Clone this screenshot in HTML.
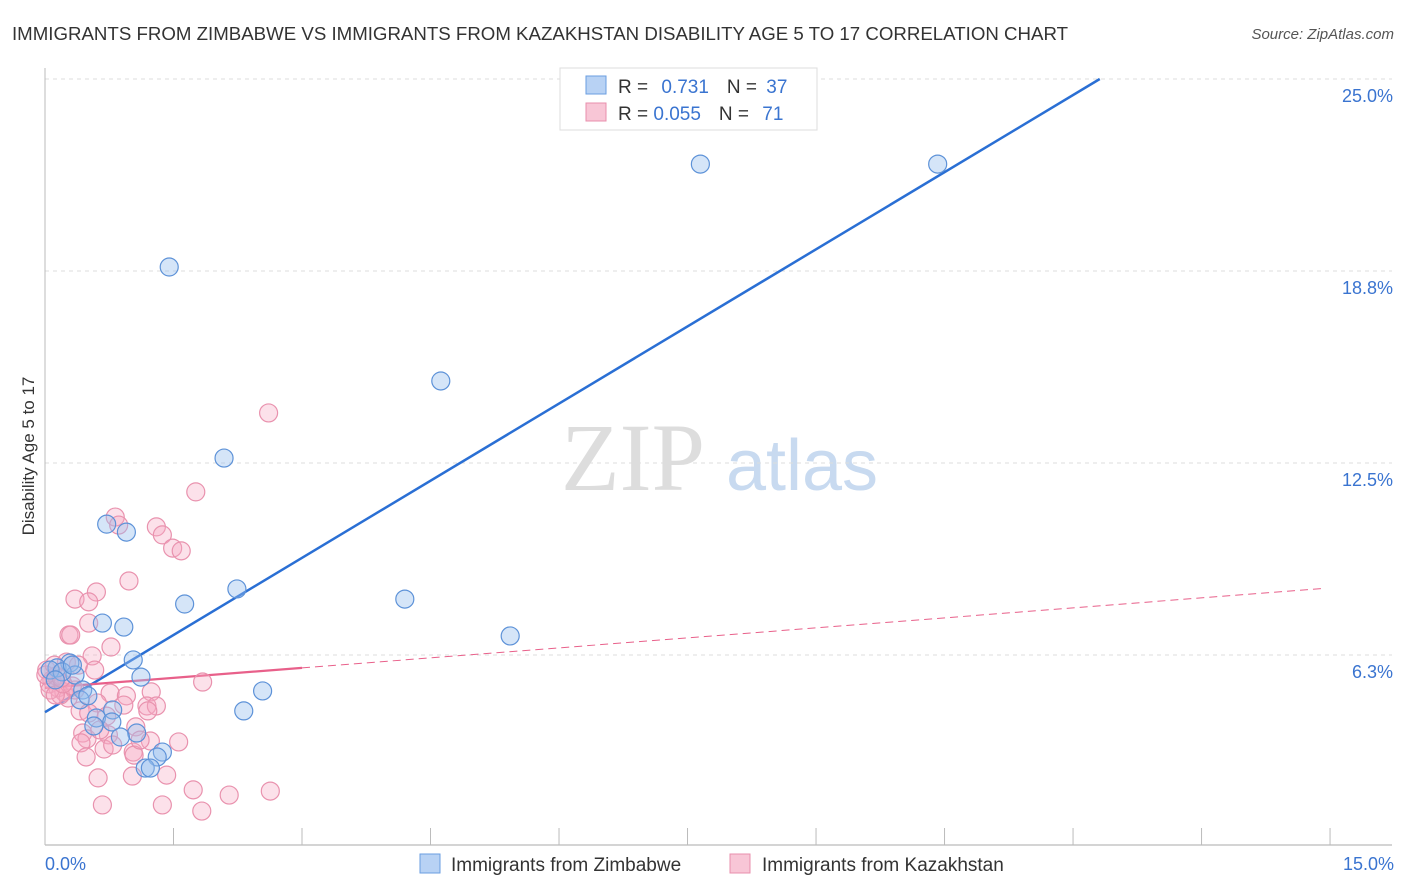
<!DOCTYPE html>
<html><head><meta charset="utf-8"><style>
body{margin:0;background:#fff;font-family:"Liberation Sans",sans-serif}
svg{display:block}
</style></head><body>
<svg id="chart" width="1406" height="892">
<text x="12" y="40" font-size="18.5" fill="#333" textLength="1056" lengthAdjust="spacingAndGlyphs">IMMIGRANTS FROM ZIMBABWE VS IMMIGRANTS FROM KAZAKHSTAN DISABILITY AGE 5 TO 17 CORRELATION CHART</text>
<text x="1394" y="39" font-size="15" fill="#555" text-anchor="end" font-style="italic">Source: ZipAtlas.com</text>
<text x="34" y="456" font-size="17" fill="#333" text-anchor="middle" transform="rotate(-90 34 456)">Disability Age 5 to 17</text>
<g><text x="633" y="490" font-size="96" fill="#ddd" font-family="Liberation Serif,serif" text-anchor="middle">ZIP</text><text x="802" y="490" font-size="72" fill="#c8daf0" text-anchor="middle">atlas</text></g>
<g id="grid"></g><g id="axes"></g><g id="lines"></g><g id="pts"></g>
<g>
<rect x="560" y="68" width="257" height="62" fill="#fff" stroke="#ddd"/>
<rect x="586" y="76" width="20" height="18" fill="#b8d2f4" stroke="#6a9ee0"/>
<rect x="586" y="103" width="20" height="18" fill="#f8c6d6" stroke="#e88fac"/>
<text x="618" y="93" font-size="19" fill="#333">R = <tspan fill="#3a74d0" dx="8">0.731</tspan><tspan dx="18">N = </tspan><tspan fill="#3a74d0" dx="4">37</tspan></text>
<text x="618" y="120" font-size="19" fill="#333">R = <tspan fill="#3a74d0">0.055</tspan><tspan dx="18">N = </tspan><tspan fill="#3a74d0" dx="8">71</tspan></text>
</g>
<g>
<rect x="420" y="854" width="20" height="19" fill="#b8d2f4" stroke="#6a9ee0"/>
<text x="451" y="871" font-size="19" fill="#333">Immigrants from Zimbabwe</text>
<rect x="730" y="854" width="20" height="19" fill="#f8c6d6" stroke="#e88fac"/>
<text x="762" y="871" font-size="19" fill="#333">Immigrants from Kazakhstan</text>
</g>
</svg>
<script>
const xTickVals=[0,1.5,3,4.5,6,7.5,9,10.5,12,13.5,15];
const yTickVals=[6.25,12.5,18.75,25];
const yTickLabels=["6.3%","12.5%","18.8%","25.0%"];
const xEndLabels=["0.0%","15.0%"];
const zimX=[1.45,7.65,10.42,4.62,2.09,0.72,0.95,2.24,1.63,4.20,0.67,0.92,5.43,1.03,1.12,2.54,2.32,0.29,0.14,0.35,0.44,0.41,0.79,0.60,0.78,0.57,1.07,0.88,1.37,1.31,1.17,1.23,0.06,0.20,0.32,0.12,0.50];
const zimY=[18.88,22.23,22.23,15.17,12.66,10.51,10.25,8.40,7.91,8.07,7.29,7.16,6.87,6.09,5.53,5.08,4.43,5.99,5.83,5.60,5.11,4.79,4.46,4.20,4.07,3.94,3.71,3.58,3.09,2.93,2.57,2.57,5.76,5.70,5.92,5.44,4.92];
const kazX=[2.61,1.76,0.82,0.86,1.30,1.37,1.49,1.59,0.98,0.60,0.35,0.51,0.51,0.28,0.30,0.77,0.55,1.84,0.25,0.39,0.02,0.08,0.15,0.22,0.05,0.13,0.27,0.35,0.76,0.95,1.24,0.61,0.92,1.19,1.30,0.41,0.72,0.51,0.74,0.44,0.49,1.06,1.23,1.56,0.42,0.69,1.03,1.04,0.48,0.62,1.02,1.42,0.67,1.37,1.73,2.15,1.83,2.63,0.18,0.32,0.06,0.12,0.21,0.58,0.79,1.11,1.20,0.01,0.11,0.19,0.64];
const kazY=[14.13,11.56,10.74,10.48,10.42,10.16,9.73,9.64,8.66,8.30,8.07,7.98,7.29,6.90,6.90,6.51,6.22,5.37,6.02,5.92,5.76,5.44,5.18,5.05,5.31,5.57,4.85,5.11,5.01,4.92,5.05,4.69,4.62,4.59,4.59,4.43,4.26,4.36,3.65,3.71,3.52,3.91,3.45,3.42,3.39,3.19,3.09,2.99,2.93,2.25,2.31,2.34,1.37,1.37,1.86,1.69,1.17,1.82,4.95,5.24,5.11,4.95,5.31,5.76,3.32,3.48,4.43,5.6,5.92,5.5,3.81];
const zimFit=[4.39,1.674];
const kazFit=[5.18,0.217];
const NS="http://www.w3.org/2000/svg";
const X=v=>45+v*85.67, Y=v=>847-v*30.72;
function mk(p,t,a){const e=document.createElementNS(NS,t);for(const k in a)e.setAttribute(k,a[k]);document.getElementById(p).appendChild(e);return e;}
yTickVals.forEach((v,i)=>{
 const g=mk('grid','line',{x1:45,x2:1392,y1:Y(v),y2:Y(v),stroke:'#ddd','stroke-dasharray':'4 4'});
 
 
 const t=mk('axes','text',{x:1393,y:Y(v)+23,'font-size':18,fill:'#3a74d0','text-anchor':'end'});t.textContent=yTickLabels[i];
 
 
});
const ax=mk('axes','line',{x1:45,x2:1392,y1:845,y2:845,stroke:'#aaa'});


const ay=mk('axes','line',{x1:45,x2:45,y1:68,y2:845,stroke:'#bbb'});


xTickVals.forEach(v=>{const t=mk('axes','line',{x1:X(v),x2:X(v),y1:828,y2:845,stroke:'#bbb'});
 
 });
[[0,45,'start'],[15,1394,'end']].forEach((d,i)=>{const t=mk('axes','text',{x:d[1],y:870,'font-size':18,fill:'#3a74d0','text-anchor':d[2]});t.textContent=xEndLabels[i];
 
 });
function pts(xs,ys,fill,stroke,name){xs.forEach((x,i)=>{const c=mk('pts','circle',{cx:X(x),cy:Y(ys[i]),r:9,fill:fill,stroke:stroke,'stroke-width':1.2});
 
 });}
pts(kazX,kazY,'rgba(246,170,196,0.35)','#e992ae','kazakhstan-point');
pts(zimX,zimY,'rgba(150,190,238,0.4)','#5d92d8','zimbabwe-point');
const xe=(25-zimFit[0])/zimFit[1];
const l1=mk('lines','line',{x1:X(0),y1:Y(zimFit[0]),x2:X(xe),y2:Y(25),stroke:'#2a6fd4','stroke-width':2.5});


const l2=mk('lines','line',{x1:X(0),y1:Y(kazFit[0]),x2:X(3),y2:Y(kazFit[0]+3*kazFit[1]),stroke:'#e8608a','stroke-width':2.2});


const l3=mk('lines','line',{x1:X(3),y1:Y(kazFit[0]+3*kazFit[1]),x2:X(14.94),y2:Y(kazFit[0]+14.94*kazFit[1]),stroke:'#e8608a','stroke-width':1,'stroke-dasharray':'8 5'});


</script>
</body></html>
